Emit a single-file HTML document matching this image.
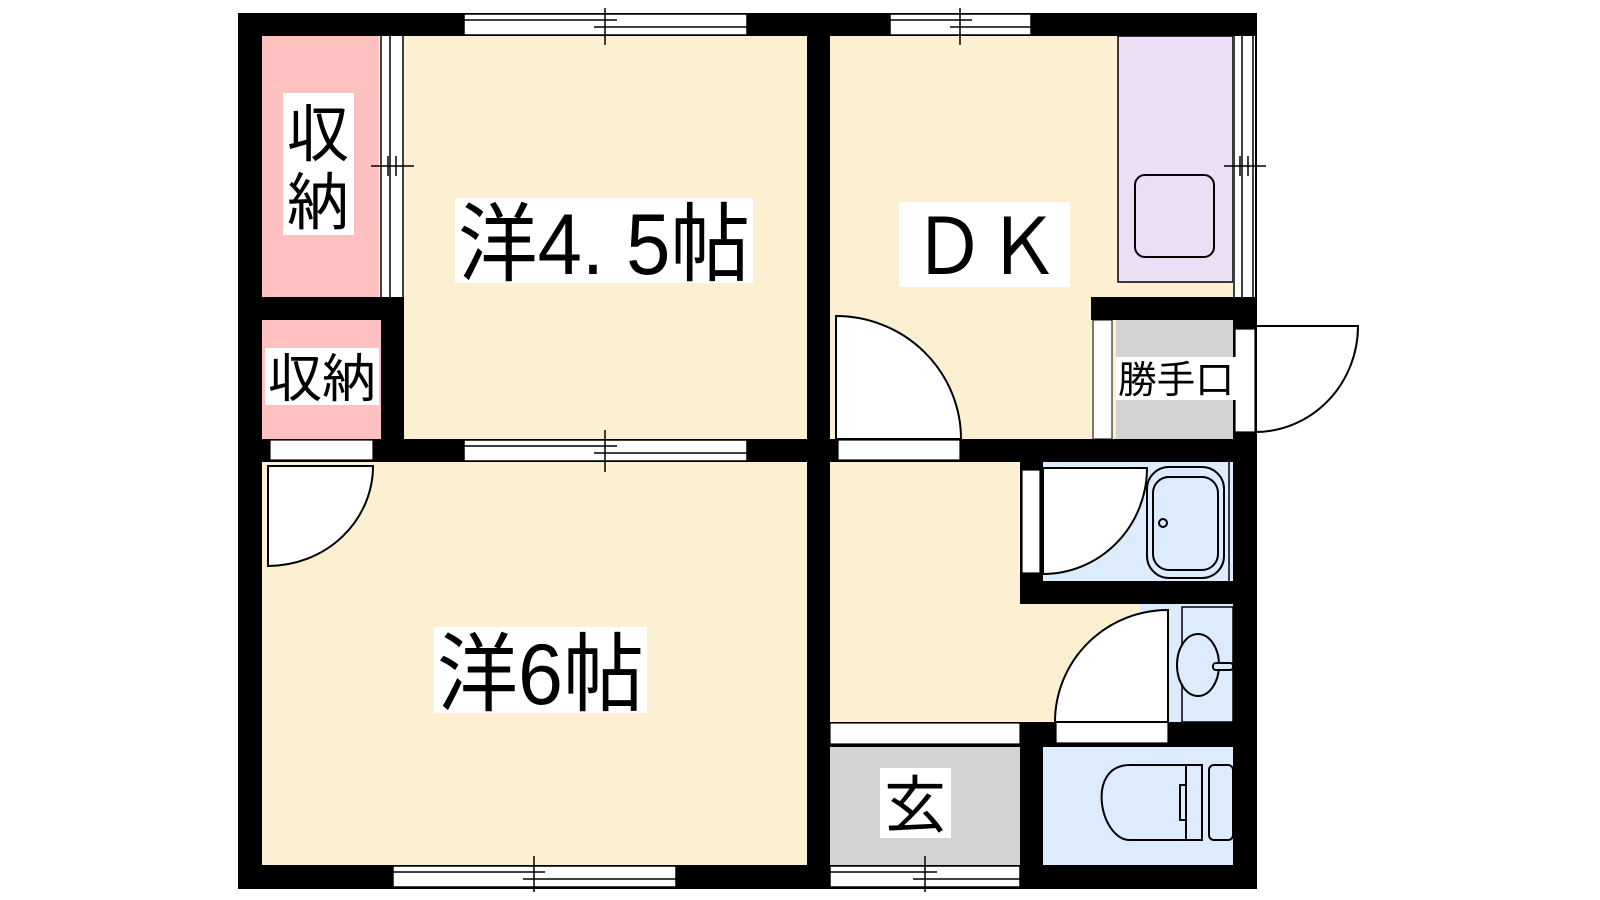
<!DOCTYPE html>
<html><head><meta charset="utf-8"><style>
html,body{margin:0;padding:0;background:#fff;}
svg{display:block;}
text{font-family:"Liberation Sans","Noto Sans CJK JP",sans-serif;fill:#000;}
</style></head><body>
<svg width="1600" height="900" viewBox="0 0 1600 900" xmlns="http://www.w3.org/2000/svg">
<rect width="1600" height="900" fill="#fff"/>
<rect x="238" y="13" width="1019" height="876" fill="#000"/>
<rect x="262" y="36" width="117" height="261" fill="#ffc0c0"/>
<rect x="262" y="320" width="119" height="119" fill="#ffc0c0"/>
<rect x="404" y="36" width="403" height="403" fill="#fdf0d2"/>
<rect x="262" y="462" width="545" height="403" fill="#fdf0d2"/>
<rect x="830" y="36" width="403" height="403" fill="#fdf0d2"/>
<rect x="1118" y="36" width="115" height="246" fill="#ecdff5" stroke="#000" stroke-width="1.5"/>
<rect x="1135" y="175" width="79" height="82" rx="10" fill="#ecdff5" stroke="#000" stroke-width="2"/>
<rect x="1091" y="297" width="166" height="23" fill="#000"/>
<rect x="1093" y="320" width="19" height="119" fill="#fff" stroke="#000" stroke-width="1"/>
<rect x="1116" y="320" width="117" height="119" fill="#d3d3d3"/>
<rect x="830" y="462" width="190" height="260" fill="#fdf0d2"/>
<rect x="1020" y="604" width="120" height="118" fill="#fdf0d2"/>
<rect x="1043" y="462" width="190" height="119" fill="#dcebfd"/>
<rect x="1140" y="604" width="93" height="118" fill="#dcebfd"/>
<rect x="830" y="747" width="190" height="118" fill="#d3d3d3"/>
<rect x="1043" y="747" width="190" height="118" fill="#dcebfd"/>
<rect x="379" y="36" width="25" height="261" fill="#fff"/>
<g stroke="#000" stroke-width="1.5">
<line x1="381" y1="36" x2="381" y2="297"/><line x1="390" y1="36" x2="390" y2="297"/><line x1="403" y1="36" x2="403" y2="297"/>
<line x1="371" y1="166" x2="414" y2="166"/><line x1="388" y1="156" x2="388" y2="176"/><line x1="396" y1="156" x2="396" y2="176"/>
</g>
<rect x="1233" y="36" width="22" height="261" fill="#fff"/>
<g stroke="#000" stroke-width="1.5">
<line x1="1234" y1="36" x2="1234" y2="297"/><line x1="1242" y1="36" x2="1242" y2="297"/><line x1="1253" y1="36" x2="1253" y2="297"/>
<line x1="1224" y1="166" x2="1266" y2="166"/><line x1="1240" y1="156" x2="1240" y2="176"/><line x1="1248" y1="156" x2="1248" y2="176"/>
</g>
<g stroke="#000" stroke-width="1.5" fill="#fff">
<rect x="464" y="14" width="283" height="21"/><line x1="464" y1="20" x2="617" y2="20"/><line x1="594" y1="27" x2="747" y2="27"/><line x1="605" y1="8" x2="605" y2="45"/>
<rect x="464" y="440" width="283" height="21"/><line x1="464" y1="446" x2="617" y2="446"/><line x1="594" y1="453" x2="747" y2="453"/><line x1="605" y1="430" x2="605" y2="472"/>
<rect x="890" y="14" width="141" height="21"/><line x1="890" y1="20" x2="972" y2="20"/><line x1="950" y1="27" x2="1031" y2="27"/><line x1="960" y1="8" x2="960" y2="45"/>
<rect x="393" y="866" width="283" height="21"/><line x1="393" y1="872" x2="545" y2="872"/><line x1="523" y1="879" x2="676" y2="879"/><line x1="534" y1="856" x2="534" y2="892"/>
<rect x="830" y="866" width="190" height="21"/><line x1="830" y1="872" x2="937" y2="872"/><line x1="913" y1="879" x2="1020" y2="879"/><line x1="925" y1="856" x2="925" y2="892"/>
</g>
<g stroke="#000" stroke-width="2" fill="#fff">
<rect x="270" y="440" width="103" height="20" stroke-width="1.2"/>
<path d="M268 466 L373 466 A105 100 0 0 1 268 566 Z"/>
<rect x="838" y="440" width="122" height="20" stroke-width="1.2"/>
<path d="M836 439 L836 316 A125 123 0 0 1 961 439 Z"/>
<rect x="1022" y="470" width="18" height="103" stroke-width="1.2"/>
<path d="M1043 468 L1147 468 A104 106 0 0 1 1043 574 Z"/>
<rect x="1056" y="722" width="112" height="21" stroke-width="1.2"/>
<path d="M1168 722 L1168 610 A113 112 0 0 0 1055 722 Z"/>
<rect x="1235" y="329" width="20" height="103" stroke-width="1.2"/>
<path d="M1255 326 L1358 326 A103 106 0 0 1 1255 432" fill="none"/>
<rect x="830" y="723" width="190" height="21" stroke-width="1.2"/>
</g>
<g stroke="#000" stroke-width="2" fill="none">
<rect x="1147" y="467" width="77" height="111" rx="22"/>
<rect x="1153" y="477" width="65" height="93" rx="16"/>
<circle cx="1163" cy="523" r="4"/>
<line x1="1229" y1="462" x2="1229" y2="581" stroke-width="1.5"/>
<rect x="1182" y="607" width="51" height="115" stroke-width="1.5"/>
<ellipse cx="1198" cy="665" rx="21" ry="31" fill="#dcebfd"/>
<rect x="1213" y="663" width="20" height="7" rx="3" fill="#dcebfd"/>
<path d="M1186 765 L1130 765 C1085 765 1100 840 1130 840 L1186 840 Z" fill="#dcebfd"/>
<rect x="1186" y="765" width="16" height="75" fill="#dcebfd"/>
<rect x="1209" y="765" width="24" height="75" rx="5" fill="#dcebfd"/>
<path d="M1186 785 L1180 785 L1180 820 L1186 820"/>
</g>
<rect x="283" y="93" width="71" height="142" fill="#fff"/>
<text x="318" y="156" font-size="62" text-anchor="middle">収</text>
<text x="318" y="224" font-size="62" text-anchor="middle">納</text>
<rect x="265" y="348" width="114" height="57" fill="#fff"/>
<text x="268" y="397" font-size="52" textLength="108" lengthAdjust="spacingAndGlyphs">収納</text>
<rect x="455" y="198" width="298" height="85" fill="#fff"/>
<text x="458" y="274" font-size="86" textLength="292" lengthAdjust="spacingAndGlyphs">洋4. 5帖</text>
<rect x="434" y="627" width="213" height="86" fill="#fff"/>
<text x="437" y="704" font-size="86" textLength="207" lengthAdjust="spacingAndGlyphs">洋6帖</text>
<rect x="899" y="202" width="171" height="85" fill="#fff"/>
<text x="912" y="274" font-size="78" textLength="148" lengthAdjust="spacingAndGlyphs">ＤＫ</text>
<rect x="1116" y="357" width="120" height="43" fill="#fff"/>
<text x="1118" y="393" font-size="38" textLength="116" lengthAdjust="spacingAndGlyphs">勝手口</text>
<rect x="880" y="768" width="71" height="70" fill="#fff"/>
<text x="915" y="827" font-size="62" text-anchor="middle">玄</text>
</svg>
</body></html>
